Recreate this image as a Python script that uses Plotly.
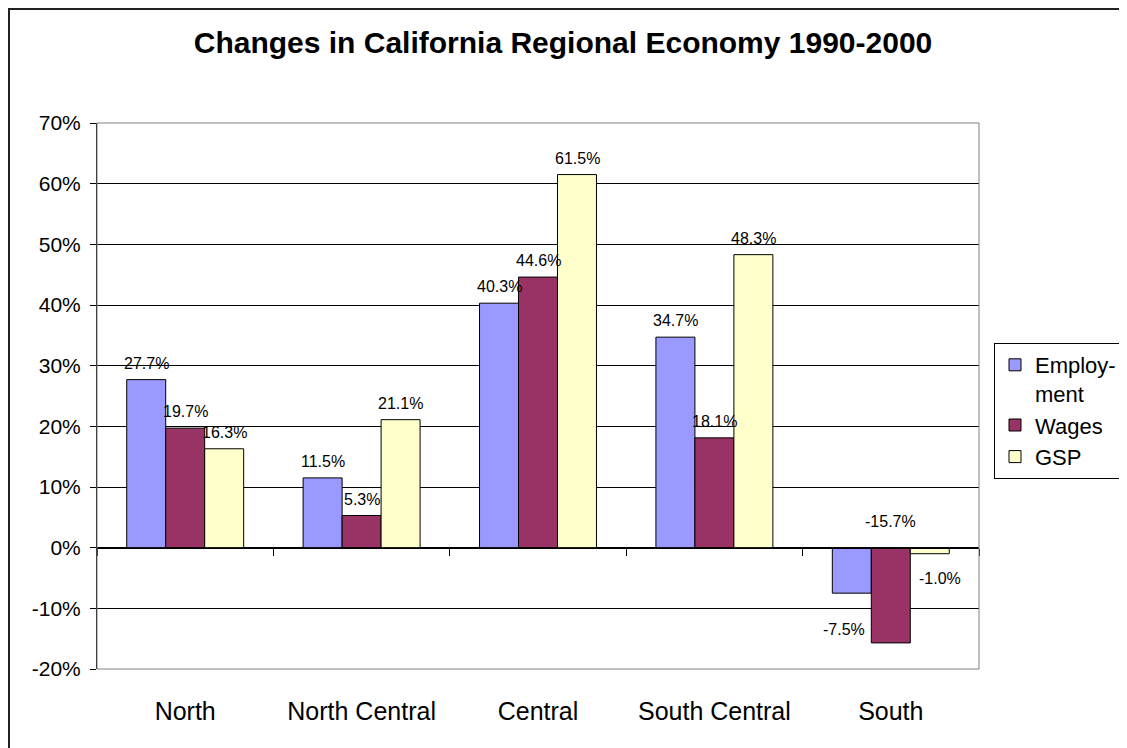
import plotly.graph_objects as go

regions = ["North", "North Central", "Central", "South Central", "South"]
employment = [0.277, 0.115, 0.403, 0.347, -0.075]
wages = [0.197, 0.053, 0.446, 0.181, -0.157]
gsp = [0.163, 0.211, 0.615, 0.483, -0.010]
series_names = ["Employ-<br>ment", "Wages", "GSP"]
series_colors = ["#9999FF", "#993366", "#FFFFCC"]
y_ticks = [-0.2, -0.1, 0.0, 0.1, 0.2, 0.3, 0.4, 0.5, 0.6, 0.7]
y_ticktext = [f"{round(v * 100)}%" for v in y_ticks]

FONT = "Liberation Sans, Arial, sans-serif"
series = [employment, wages, gsp]

# page is offset by the browser's 8px body margin
OFF = 8
W, H = 1127 - OFF, 748 - OFF
PL, PR, PT, PB = 97 - OFF, 979 - OFF, 123 - OFF, 669 - OFF
PW, PH = PR - PL, PB - PT

fig = go.Figure()
for k, (name, vals, col) in enumerate(zip(series_names, series, series_colors)):
    fig.add_trace(go.Bar(
        x=regions, y=vals, name=name,
        marker=dict(color=col, line=dict(color="black", width=1)),
        legendgroup=str(k),
    ))

# invisible trace for the 0% category axis with boundary ticks
fig.add_trace(go.Scatter(x=regions, y=[0] * len(regions), xaxis="x2", yaxis="y",
                         mode="markers", marker=dict(opacity=0), showlegend=False,
                         hoverinfo="skip"))

# data labels (Excel-like placement; a few nudged as in the original)
bar_w = 39
nudge = {(0, 4): (-8, -20), (2, 4): (10, -8)}  # (series, category): (dx, dy) px
for k, vals in enumerate(series):
    for j, v in enumerate(vals):
        dx, dy = nudge.get((k, j), (0, 0))
        if (k, j) == (1, 4):
            # Excel drew this label above the category axis
            fig.add_annotation(x=regions[j], y=0, xref="x", yref="y",
                               text=f"{v*100:.1f}%", showarrow=False,
                               xshift=(k - 1) * bar_w, yanchor="bottom", yshift=16,
                               font=dict(family=FONT, size=16, color="black"))
            continue
        fig.add_annotation(
            x=regions[j], y=v, xref="x", yref="y",
            text=f"{v*100:.1f}%", showarrow=False,
            xshift=(k - 1) * bar_w + dx,
            yanchor="bottom" if v >= 0 else "top",
            yshift=(6 if v >= 0 else -6) + dy,
            font=dict(family=FONT, size=16, color="black"),
        )

y0 = y_ticks[0]
y1 = y_ticks[-1]
zero_pos = (0 - y0) / (y1 - y0)

fig.update_layout(
    width=W, height=H,
    paper_bgcolor="white", plot_bgcolor="white",
    margin=dict(l=PL, r=W - PR, t=PT, b=H - PB, autoexpand=False),
    barmode="group", bargap=0.337, bargroupgap=0,
    title=dict(text="<b>Changes in California Regional Economy 1990-2000</b>",
               x=(563 - OFF) / W, xanchor="center", xref="container",
               y=1 - (42 - OFF) / H, yanchor="middle",
               font=dict(family=FONT, size=30, color="black")),
    font=dict(family=FONT, color="black"),
    xaxis=dict(type="category", categoryarray=regions, range=[-0.5, 4.5],
               showline=False, ticks="", showgrid=False, automargin=False,
               tickfont=dict(family=FONT, size=25, color="black"),
               ticklabelstandoff=25),
    xaxis2=dict(type="category", categoryarray=regions, range=[-0.5, 4.5],
                overlaying="x", anchor="free", position=zero_pos,
                showline=True, linecolor="black", linewidth=1,
                ticks="outside", tickson="boundaries", ticklen=7, tickcolor="black",
                showticklabels=False, showgrid=False),
    yaxis=dict(range=[y0, y1], tickvals=y_ticks, ticktext=y_ticktext,
               showline=True, linecolor="black", linewidth=1,
               ticks="outside", ticklen=6, tickcolor="black",
               showgrid=True, gridcolor="black", gridwidth=1,
               zeroline=False, automargin=False, ticklabelstandoff=5,
               tickfont=dict(family=FONT, size=21, color="black")),
    legend=dict(x=(994 - 97) / PW, xanchor="left", y=(669 - 343) / PH, yanchor="top",
                bordercolor="black", borderwidth=1, bgcolor="white",
                font=dict(family=FONT, size=22, color="black"),
                valign="top", tracegroupgap=0, itemclick=False),
    showlegend=True,
    shapes=[
        dict(type="rect", xref="paper", yref="paper", x0=0, x1=1, y0=0, y1=1,
             line=dict(color="#808080", width=1), layer="above"),
        dict(type="rect", xref="paper", yref="paper",
             x0=(1 - PL) / PW, x1=(W + 20 - PL) / PW,
             y0=(PB - H - 20) / PH, y1=(PB - 1) / PH,
             line=dict(color="#222222", width=2), layer="below"),
    ],
)

fig.write_html("out.html")
